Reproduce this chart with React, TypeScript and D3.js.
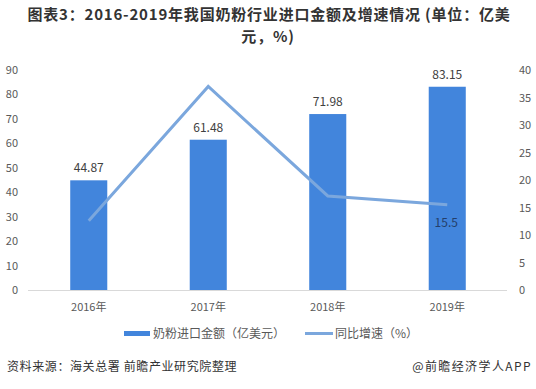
import React, { useEffect, useRef } from "react";
import * as d3 from "d3";

const years = ["2016年", "2017年", "2018年", "2019年"];
const amounts = [44.87, 61.48, 71.98, 83.15];
const growth = [12.6, 37.0, 17.1, 15.5];
const leftTicks = [0, 10, 20, 30, 40, 50, 60, 70, 80, 90];
const rightTicks = [0, 5, 10, 15, 20, 25, 30, 35, 40];

const W = 536;
const H = 389;
const font = "'Microsoft YaHei', 'Noto Sans CJK SC', sans-serif";

const App = () => {
  const ref = useRef<SVGSVGElement>(null);

  useEffect(() => {
    const svg = d3.select(ref.current);
    svg.selectAll("*").remove();

    const x = d3.scaleBand().domain(years).range([29, 507]).paddingInner(0.69).paddingOuter(0.345);
    const yL = d3.scaleLinear().domain([0, 90]).range([290, 70]);
    const yR = d3.scaleLinear().domain([0, 40]).range([290, 70]);

    // title, two lines
    const title = svg.append("g")
      .attr("text-anchor", "middle")
      .attr("font-family", font)
      .attr("font-weight", "bold")
      .attr("font-size", 15)
      .attr("letter-spacing", 0.8)
      .attr("fill", "#333");
    title.append("text").attr("x", W / 2 + 1).attr("y", 20)
      .text("图表3：2016-2019年我国奶粉行业进口金额及增速情况 (单位：亿美");
    title.append("text").attr("x", W / 2).attr("y", 42).text("元，%)");

    // left axis labels
    svg.append("g").selectAll("text").data(leftTicks).enter().append("text")
      .attr("x", 18).attr("y", (d) => yL(d) + 4)
      .attr("text-anchor", "end")
      .attr("font-family", font).attr("font-size", 11).attr("fill", "#595959")
      .text((d) => d);

    // right axis labels
    svg.append("g").selectAll("text").data(rightTicks).enter().append("text")
      .attr("x", 519).attr("y", (d) => yR(d) + 4)
      .attr("font-family", font).attr("font-size", 11).attr("fill", "#595959")
      .text((d) => d);

    // baseline
    svg.append("line")
      .attr("x1", 28).attr("x2", 507).attr("y1", yL(0) + 0.5).attr("y2", yL(0) + 0.5)
      .attr("stroke", "#d9d9d9");

    // bars
    svg.append("g").selectAll("rect").data(amounts).enter().append("rect")
      .attr("x", (d, i) => x(years[i])!)
      .attr("width", x.bandwidth())
      .attr("y", (d) => yL(d))
      .attr("height", (d) => yL(0) - yL(d))
      .attr("fill", "#4285dc");

    svg.append("g").selectAll("text").data(amounts).enter().append("text")
      .attr("x", (d, i) => x(years[i])! + x.bandwidth() / 2)
      .attr("y", (d) => yL(d) - 8)
      .attr("text-anchor", "middle")
      .attr("font-family", font).attr("font-size", 12).attr("fill", "#404040")
      .text((d) => d.toFixed(2));

    // x labels
    svg.append("g").selectAll("text").data(years).enter().append("text")
      .attr("x", (d) => x(d)! + x.bandwidth() / 2)
      .attr("y", 311)
      .attr("text-anchor", "middle")
      .attr("font-family", font).attr("font-size", 11).attr("fill", "#595959")
      .text((d) => d);

    // growth line
    const line = d3.line<number>()
      .x((d, i) => x(years[i])! + x.bandwidth() / 2)
      .y((d) => yR(d));
    svg.append("path")
      .datum(growth)
      .attr("d", line)
      .attr("fill", "none")
      .attr("stroke", "#7ba7dd")
      .attr("stroke-width", 3);

    svg.append("text")
      .attr("x", x(years[3])! + x.bandwidth() / 2 - 1)
      .attr("y", yR(growth[3]) + 22)
      .attr("text-anchor", "middle")
      .attr("font-family", font).attr("font-size", 12).attr("fill", "#243f6b")
      .text(growth[3]);

    // legend
    svg.append("rect").attr("x", 124).attr("y", 331).attr("width", 26).attr("height", 5).attr("fill", "#4285dc");
    svg.append("text").attr("x", 153).attr("y", 338)
      .attr("font-family", font).attr("font-size", 12).attr("fill", "#595959")
      .text("奶粉进口金额（亿美元）");
    svg.append("line").attr("x1", 305).attr("x2", 333).attr("y1", 333.5).attr("y2", 333.5)
      .attr("stroke", "#7ba7dd").attr("stroke-width", 3);
    svg.append("text").attr("x", 335).attr("y", 338)
      .attr("font-family", font).attr("font-size", 12).attr("fill", "#595959")
      .text("同比增速（%）");

    // footer
    svg.append("text").attr("x", 7).attr("y", 371)
      .attr("font-family", font).attr("font-size", 12).attr("fill", "#333")
      .attr("letter-spacing", 0.6)
      .text("资料来源：海关总署 前瞻产业研究院整理");
    svg.append("text").attr("x", 532).attr("y", 371)
      .attr("text-anchor", "end")
      .attr("font-family", font).attr("font-size", 12).attr("fill", "#333")
      .attr("letter-spacing", 1.4)
      .text("@前瞻经济学人APP");
  }, []);

  return (
    <svg
      ref={ref}
      width={W}
      height={H}
      style={{ position: "absolute", left: 0, top: 0, background: "#fff" }}
    />
  );
};

export default App;
